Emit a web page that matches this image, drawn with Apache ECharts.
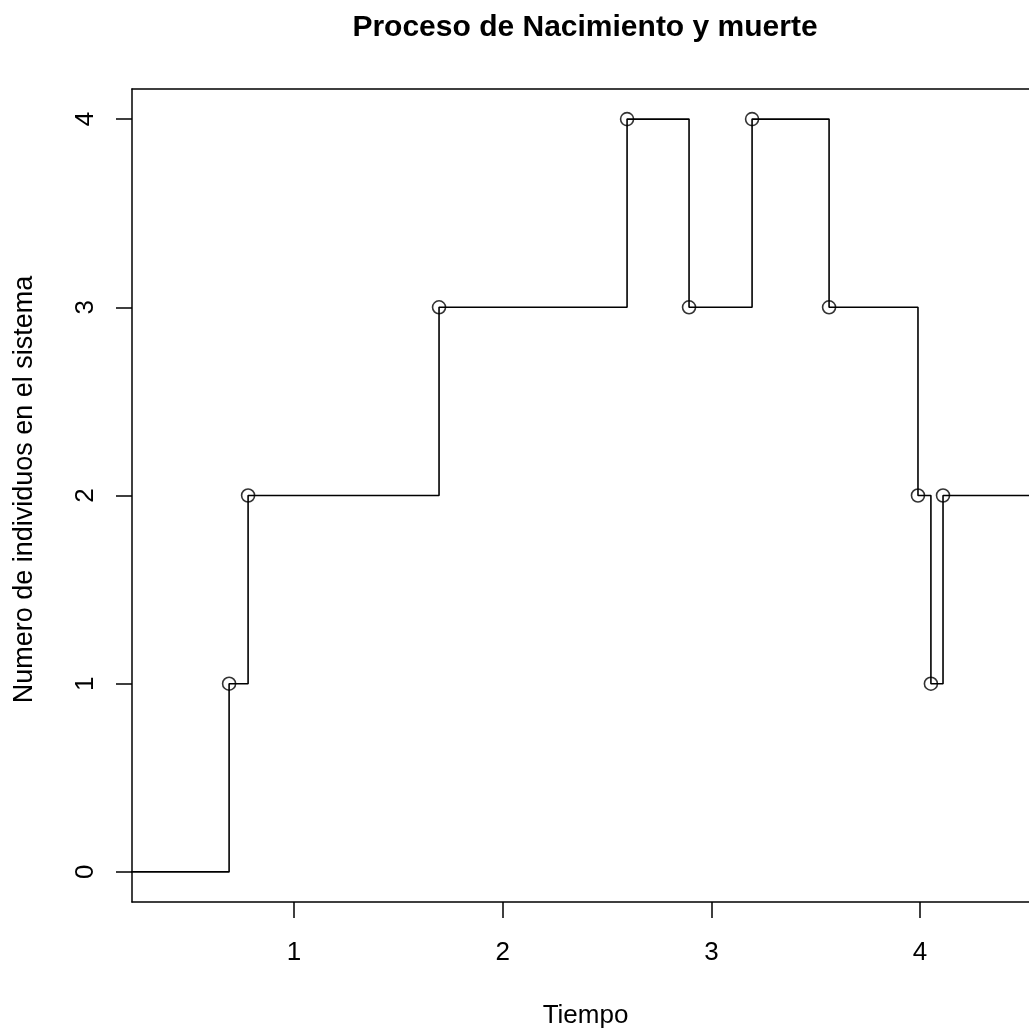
<!DOCTYPE html>
<html>
<head>
<meta charset="utf-8">
<script src="https://cdn.jsdelivr.net/npm/echarts@6/dist/echarts.min.js"></script>
<style>
  html, body { margin: 0; padding: 0; background: #fff; }
  #chart { width: 1029px; height: 1030px; }
</style>
</head>
<body>
<div id="chart"></div>
<script>
// tiempos de cada cambio de estado y numero de individuos
var times = [0, 0.689, 0.78, 1.695, 2.596, 2.893, 3.195, 3.564, 3.99, 4.052, 4.11, 4.6];
var counts = [0, 1, 2, 3, 4, 3, 4, 3, 2, 1, 2, 2];
// puntos marcados con circulo (los saltos)
var jumpTimes = [0.689, 0.78, 1.695, 2.596, 2.893, 3.195, 3.564, 3.99, 4.052, 4.11];
var jumpCounts = [1, 2, 3, 4, 3, 4, 3, 2, 1, 2];
var xTicks = [1, 2, 3, 4];
var yTicks = [0, 1, 2, 3, 4];

var font = 'Liberation Sans, Arial, sans-serif';
var stepData = times.map(function (t, i) { return [t, counts[i]]; });
var pointData = jumpTimes.map(function (t, i) { return [t, jumpCounts[i]]; });

var chart = echarts.init(document.getElementById('chart'));
var option = {
  backgroundColor: '#fff',
  animation: false,
  title: {
    text: 'Proceso de Nacimiento y muerte',
    left: 580,
    textAlign: 'center',
    top: 8,
    textStyle: { fontFamily: font, fontSize: 30, fontWeight: 'bold', color: '#000' }
  },
  grid: { left: 132, right: 0, top: 89, bottom: 128, outerBoundsMode: 'none', containLabel: false },
  xAxis: [{
    type: 'value',
    min: 0.2237,
    max: 4.522,
    name: 'Tiempo',
    nameLocation: 'middle',
    nameGap: 101,
    nameTextStyle: { fontFamily: font, fontSize: 26, color: '#000', padding: [0, 0, 0, 10] },
    splitLine: { show: false },
    axisLine: { show: true, onZero: false, lineStyle: { color: '#000', width: 1.5 } },
    axisTick: { show: true, length: 16, customValues: xTicks, lineStyle: { color: '#000', width: 1.5 } },
    axisLabel: { margin: 38, customValues: xTicks, fontFamily: font, fontSize: 26, color: '#000' }
  }, {
    type: 'value',
    position: 'top',
    min: 0.2237,
    max: 4.522,
    splitLine: { show: false },
    axisLine: { show: true, onZero: false, lineStyle: { color: '#000', width: 1.5 } },
    axisTick: { show: false },
    axisLabel: { show: false }
  }],
  yAxis: {
    type: 'value',
    min: -0.16,
    max: 4.16,
    name: 'Numero de individuos en el sistema',
    nameLocation: 'middle',
    nameRotate: 90,
    nameGap: 94,
    nameTextStyle: { fontFamily: font, fontSize: 27, color: '#000', padding: [0, 0, 0, 12] },
    splitLine: { show: false },
    axisLine: { show: true, onZero: false, lineStyle: { color: '#000', width: 1.5 } },
    axisTick: { show: true, length: 16, customValues: yTicks, lineStyle: { color: '#000', width: 1.5 } },
    axisLabel: { rotate: 90, margin: 33, customValues: yTicks, fontFamily: font, fontSize: 26, color: '#000' }
  },
  series: [{
    type: 'line',
    step: 'end',
    data: stepData,
    showSymbol: false,
    clip: true,
    lineStyle: { color: '#000', width: 1.6 }
  }, {
    type: 'scatter',
    data: pointData,
    symbol: 'circle',
    symbolSize: 13,
    itemStyle: { color: 'rgba(0,0,0,0)', borderColor: '#000', borderWidth: 1.6 }
  }]
};
chart.setOption(option);
</script>
</body>
</html>
